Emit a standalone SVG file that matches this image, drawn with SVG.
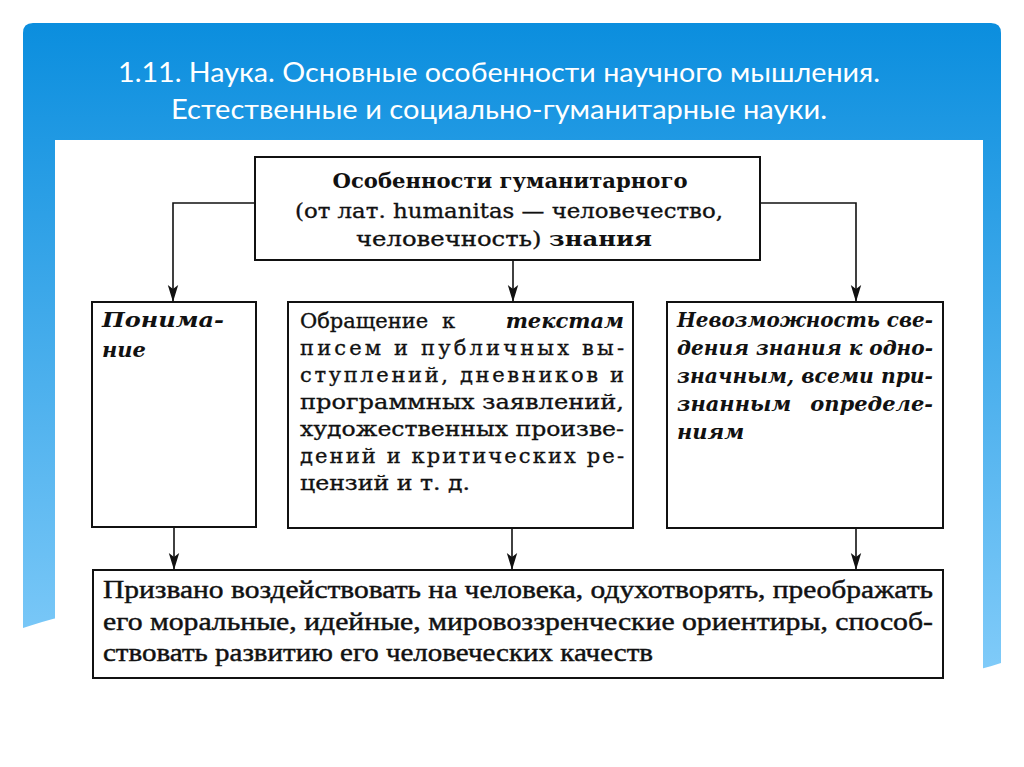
<svg xmlns="http://www.w3.org/2000/svg" width="1024" height="767" viewBox="0 0 1024 767">
<style>
.title{font-family:Lato,"Open Sans",sans-serif;font-size:27px;fill:#ffffff}
.box{fill:#ffffff;stroke:#111;stroke-width:2}
.t{font-family:"DejaVu Serif",serif;font-size:21px;fill:#111;stroke:#111;stroke-width:0.35}
.b{font-weight:bold;stroke-width:0}
.bi{font-weight:bold;font-style:italic;stroke-width:0}
.t4{font-family:"Liberation Serif",serif;font-size:26px;fill:#111;stroke:#111;stroke-width:0.45}
.conn{fill:none;stroke:#111;stroke-width:1.6}
</style>
<defs>
<linearGradient id="bg" gradientUnits="userSpaceOnUse" x1="0" y1="23" x2="0" y2="672">
<stop offset="0" stop-color="#0b8ede"/>
<stop offset="1" stop-color="#80cbf9"/>
</linearGradient>
<marker id="ah" markerUnits="userSpaceOnUse" markerWidth="18" markerHeight="12" refX="17" refY="6" orient="auto" viewBox="0 0 18 12">
<path d="M0,0.8 L17,6 L0,11.2 L4,6 Z" fill="#111"/>
</marker>
</defs>
<rect x="0" y="0" width="1024" height="767" fill="#ffffff"/>
<g id="frame">
<path d="M23,33 Q23,23 33,23 L991,23 Q1001,23 1001,33 L1001,663 C700,760 300,530 23,628 Z" fill="url(#bg)"/>
<rect x="55" y="140" width="928" height="627" fill="#ffffff"/>
</g>
<g id="title">
<text class="title" x="499" y="82" text-anchor="middle" textLength="762" lengthAdjust="spacingAndGlyphs">1.11. Наука. Основные особенности научного мышления.</text>
<text class="title" x="499" y="119" text-anchor="middle" textLength="656" lengthAdjust="spacingAndGlyphs">Естественные и социально-гуманитарные науки.</text>
</g>
<g id="connectors">
<path class="conn" d="M255,203 L173,203 L173,302" marker-end="url(#ah)"/>
<path class="conn" d="M760,203 L856,203 L856,302" marker-end="url(#ah)"/>
<path class="conn" d="M513,260 L513,302" marker-end="url(#ah)"/>
<path class="conn" d="M174,527 L174,570" marker-end="url(#ah)"/>
<path class="conn" d="M512,528 L512,570" marker-end="url(#ah)"/>
<path class="conn" d="M856,528 L856,570" marker-end="url(#ah)"/>
</g>
<g id="top-node">
<rect class="box" x="255" y="157" width="505" height="103"/>
<text class="t b" x="510" y="188" text-anchor="middle" textLength="355" lengthAdjust="spacingAndGlyphs">Особенности гуманитарного</text>
<text class="t" x="509" y="218" text-anchor="middle" textLength="428" lengthAdjust="spacingAndGlyphs">(от лат. humanitas — человечество,</text>
<text class="t" x="504" y="246" text-anchor="middle" textLength="296" lengthAdjust="spacingAndGlyphs">человечность) <tspan class="b">знания</tspan></text>
</g>
<g id="node-understanding">
<rect class="box" x="92" y="302" width="164" height="225"/>
<text class="t bi" x="102" y="327" textLength="122" lengthAdjust="spacingAndGlyphs">Понима-</text>
<text class="t bi" x="102" y="357">ние</text>
</g>
<g id="node-texts">
<rect class="box" x="288" y="302" width="345" height="226"/>
<text class="t" x="300" y="328">Обращение</text>
<text class="t" x="442" y="328">к</text>
<text class="t bi" x="624" y="328" text-anchor="end">текстам</text>
<text class="t" x="300" y="355" textLength="324" lengthAdjust="spacing">писем и публичных вы-</text>
<text class="t" x="300" y="382" textLength="324" lengthAdjust="spacing">ступлений, дневников и</text>
<text class="t" x="300" y="409" textLength="324" lengthAdjust="spacingAndGlyphs">программных заявлений,</text>
<text class="t" x="300" y="436" textLength="324" lengthAdjust="spacingAndGlyphs">художественных произве-</text>
<text class="t" x="300" y="463" textLength="324" lengthAdjust="spacing">дений и критических ре-</text>
<text class="t" x="300" y="490" textLength="170" lengthAdjust="spacingAndGlyphs">цензий и т. д.</text>
</g>
<g id="node-impossibility">
<rect class="box" x="667" y="302" width="276" height="226"/>
<text class="t bi" x="677" y="327" textLength="256" lengthAdjust="spacingAndGlyphs">Невозможность све-</text>
<text class="t bi" x="677" y="355" textLength="256" lengthAdjust="spacingAndGlyphs">дения знания к одно-</text>
<text class="t bi" x="677" y="383" textLength="256" lengthAdjust="spacingAndGlyphs">значным, всеми при-</text>
<text class="t bi" x="677" y="411">знанным</text>
<text class="t bi" x="933" y="411" text-anchor="end">определе-</text>
<text class="t bi" x="677" y="439">ниям</text>
</g>
<g id="node-purpose">
<rect class="box" x="93" y="570" width="850" height="108"/>
<text class="t4" x="103" y="598" textLength="830" lengthAdjust="spacingAndGlyphs">Призвано воздействовать на человека, одухотворять, преображать</text>
<text class="t4" x="103" y="630" textLength="830" lengthAdjust="spacingAndGlyphs">его моральные, идейные, мировоззренческие ориентиры, способ-</text>
<text class="t4" x="103" y="661" textLength="550" lengthAdjust="spacingAndGlyphs">ствовать развитию его человеческих качеств</text>
</g>
</svg>
